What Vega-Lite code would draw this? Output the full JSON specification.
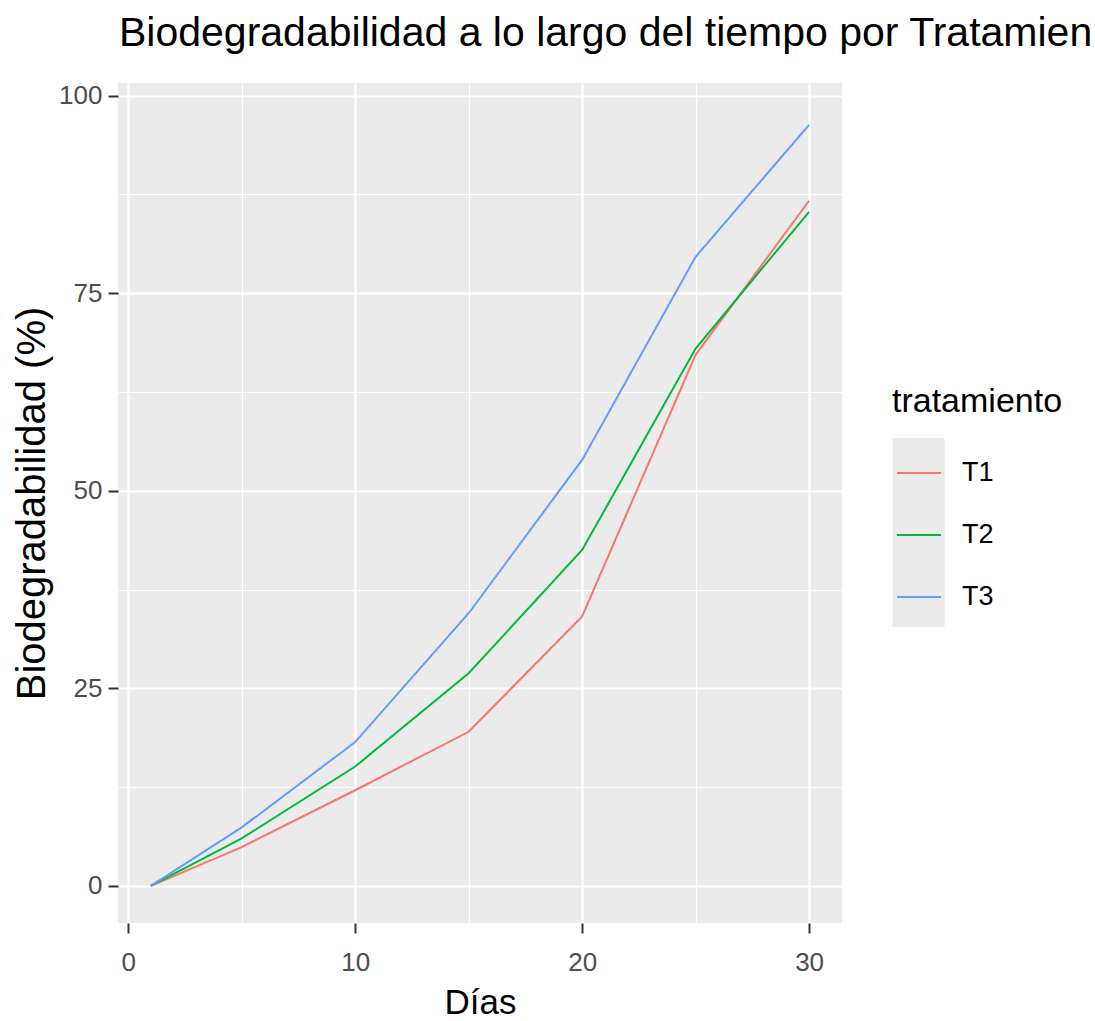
{
  "$schema": "https://vega.github.io/schema/vega-lite/v6.json",
  "width": 724,
  "height": 840,
  "autosize": {"type": "none"},
  "padding": {"left": 118, "top": 83, "right": 253, "bottom": 98},
  "background": "white",
  "title": {
    "text": "Biodegradabilidad a lo largo del tiempo por Tratamien",
    "anchor": "start",
    "frame": "group",
    "font": "Liberation Sans",
    "fontSize": 41,
    "fontWeight": "normal",
    "color": "black",
    "baseline": "top",
    "offset": 28,
    "dx": 1
  },
  "config": {"view": {"fill": "#EBEBEB", "stroke": null}},
  "data": {
    "values": [
      {"dia": 1, "bio": 0, "tratamiento": "T1"},
      {"dia": 5, "bio": 4.9, "tratamiento": "T1"},
      {"dia": 10, "bio": 12.1, "tratamiento": "T1"},
      {"dia": 15, "bio": 19.5, "tratamiento": "T1"},
      {"dia": 20, "bio": 34.1, "tratamiento": "T1"},
      {"dia": 25, "bio": 67.2, "tratamiento": "T1"},
      {"dia": 30, "bio": 86.7, "tratamiento": "T1"},
      {"dia": 1, "bio": 0, "tratamiento": "T2"},
      {"dia": 5, "bio": 6.0, "tratamiento": "T2"},
      {"dia": 10, "bio": 15.1, "tratamiento": "T2"},
      {"dia": 15, "bio": 26.9, "tratamiento": "T2"},
      {"dia": 20, "bio": 42.5, "tratamiento": "T2"},
      {"dia": 25, "bio": 68.0, "tratamiento": "T2"},
      {"dia": 30, "bio": 85.3, "tratamiento": "T2"},
      {"dia": 1, "bio": 0, "tratamiento": "T3"},
      {"dia": 5, "bio": 7.4, "tratamiento": "T3"},
      {"dia": 10, "bio": 18.2, "tratamiento": "T3"},
      {"dia": 15, "bio": 34.5, "tratamiento": "T3"},
      {"dia": 20, "bio": 53.9, "tratamiento": "T3"},
      {"dia": 25, "bio": 79.6, "tratamiento": "T3"},
      {"dia": 30, "bio": 96.3, "tratamiento": "T3"}
    ]
  },
  "encoding": {
    "x": {
      "field": "dia",
      "type": "quantitative",
      "scale": {"domain": [-0.45, 31.45], "nice": false, "zero": false},
      "axis": {
        "values": [0, 5, 10, 15, 20, 25, 30],
        "title": "Días",
        "grid": true,
        "gridColor": "white",
        "gridWidth": {"condition": {"test": "datum.value % 10 === 0", "value": 2.2}, "value": 1.1},
        "domain": false,
        "ticks": true,
        "tickColor": "#333333",
        "tickWidth": 2,
        "tickSize": 10,
        "tickOpacity": {"condition": {"test": "datum.value % 10 === 0", "value": 1}, "value": 0},
        "labelExpr": "datum.value % 10 === 0 ? datum.label : ''",
        "labelFont": "Liberation Sans",
        "labelFontSize": 26,
        "labelColor": "#4D4D4D",
        "labelPadding": 16,
        "labelFlush": false,
        "labelOverlap": false,
        "titleFont": "Liberation Sans",
        "titleFontSize": 35,
        "titleFontWeight": "normal",
        "titleColor": "black",
        "titlePadding": 10
      }
    },
    "y": {
      "field": "bio",
      "type": "quantitative",
      "scale": {"domain": [-4.7, 101.6], "nice": false, "zero": false},
      "axis": {
        "values": [0, 12.5, 25, 37.5, 50, 62.5, 75, 87.5, 100],
        "title": "Biodegradabilidad (%)",
        "grid": true,
        "gridColor": "white",
        "gridWidth": {"condition": {"test": "datum.value % 25 === 0", "value": 2.2}, "value": 1.1},
        "domain": false,
        "ticks": true,
        "tickColor": "#333333",
        "tickWidth": 2,
        "tickSize": 10,
        "tickOpacity": {"condition": {"test": "datum.value % 25 === 0", "value": 1}, "value": 0},
        "labelExpr": "datum.value % 25 === 0 ? datum.label : ''",
        "labelFont": "Liberation Sans",
        "labelFontSize": 26,
        "labelColor": "#4D4D4D",
        "labelPadding": 6,
        "labelFlush": false,
        "labelOverlap": false,
        "titleFont": "Liberation Sans",
        "titleFontSize": 40,
        "titleFontWeight": "normal",
        "titleColor": "black",
        "titlePadding": 6
      }
    }
  },
  "layer": [
    {
      "mark": {"type": "point", "opacity": 0, "filled": true},
      "encoding": {
        "fill": {
          "field": "tratamiento",
          "type": "nominal",
          "scale": {"range": ["#EBEBEB", "#EBEBEB", "#EBEBEB"]},
          "legend": {
            "orient": "none",
            "legendX": 769,
            "legendY": 355,
            "title": null,
            "padding": 0,
            "rowPadding": 0,
            "labelExpr": "''",
            "labelOffset": 0,
            "symbolType": "M-0.825,-1H0.825V1H-0.825Z",
            "symbolSize": 3969,
            "symbolStrokeWidth": 0,
            "symbolOpacity": 1,
            "zindex": 1,
            "encode": {"symbols": {"update": {"opacity": {"value": 1}, "fill": {"value": "#EBEBEB"}, "strokeWidth": {"value": 0}}}}
          }
        }
      }
    },
    {
      "mark": {"type": "line", "strokeWidth": 2},
      "encoding": {
        "color": {
          "field": "tratamiento",
          "type": "nominal",
          "scale": {"domain": ["T1", "T2", "T3"], "range": ["#F8766D", "#00BA38", "#619CFF"]},
          "legend": {
            "orient": "none",
            "legendX": 774,
            "legendY": 302,
            "title": "tratamiento",
            "titleFont": "Liberation Sans",
            "titleFontSize": 34,
            "titleFontWeight": "normal",
            "titleColor": "black",
            "titlePadding": 31,
            "padding": 0,
            "rowPadding": 26,
            "symbolType": "stroke",
            "symbolSize": 1936,
            "symbolStrokeWidth": 2,
            "symbolOffset": 4,
            "labelOffset": 20,
            "labelFont": "Liberation Sans",
            "labelFontSize": 27,
            "labelColor": "black",
            "zindex": 2
          }
        }
      }
    }
  ]
}
